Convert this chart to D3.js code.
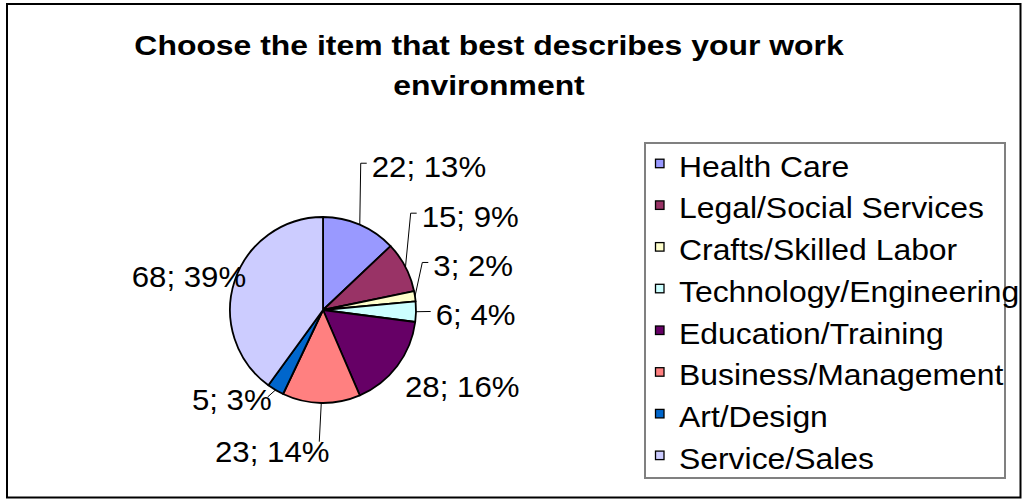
<!DOCTYPE html>
<html>
<head>
<meta charset="utf-8">
<script src="https://cdn.jsdelivr.net/npm/d3@7"></script>
<style>
  html, body { margin: 0; padding: 0; background: #fff; }
  svg { display: block; }
  text { font-family: "Liberation Sans", Arial, sans-serif; fill: #000; }
</style>
</head>
<body>
<svg id="chart" width="1025" height="499"></svg>
<script>
// Survey answers: work environment of respondents
const categories = [
  "Health Care",
  "Legal/Social Services",
  "Crafts/Skilled Labor",
  "Technology/Engineering",
  "Education/Training",
  "Business/Management",
  "Art/Design",
  "Service/Sales"
];
const counts = [22, 15, 3, 6, 28, 23, 5, 68];
const percentLabels = ["13%", "9%", "2%", "4%", "16%", "14%", "3%", "39%"];
const sliceColors = ["#9999FF", "#993366", "#FFFFCC", "#CCFFFF", "#660066", "#FF8080", "#0066CC", "#CCCCFF"];
const titleLines = ["Choose the item that best describes your work", "environment"];

// Label placement around the pie, in units of the pie radius from its centre.
// leader: "side" = bent line ending left of the text, "top" = line to the text's top,
// "corner" = short line to the text's upper-right corner, null = no line.
const labelLayout = [
  { dx: 0.524, dy: -1.433, anchor: "start", leader: "side" },
  { dx: 1.061, dy: -0.896, anchor: "start", leader: "side" },
  { dx: 1.186, dy: -0.366, anchor: "start", leader: "side" },
  { dx: 1.212, dy: 0.161, anchor: "start", leader: "side" },
  { dx: 0.882, dy: 0.932, anchor: "start", leader: null },
  { dx: -1.161, dy: 1.631, anchor: "start", leader: "top" },
  { dx: -0.552, dy: 1.075, anchor: "end", leader: "corner" },
  { dx: -2.057, dy: -0.251, anchor: "start", leader: null }
];

const svg = d3.select("#chart");
const W = 1025, H = 499;

// chart area frame
svg.append("rect").attr("x", 0).attr("y", 0).attr("width", W).attr("height", H).attr("fill", "#fff");
svg.append("rect")
  .attr("x", 7).attr("y", 4).attr("width", 1013.5).attr("height", 493.5)
  .attr("fill", "none").attr("stroke", "#000").attr("stroke-width", 2);

// helper: text with a slight horizontal stretch
function stretchedText(parent, x, y, str, opts) {
  const g = parent.append("g").attr("transform", `translate(${x},${y}) scale(${opts.sx},1)`);
  const t = g.append("text")
    .attr("x", 0).attr("y", 0)
    .attr("text-anchor", opts.anchor || "start")
    .style("font-size", opts.size + "px")
    .style("font-weight", opts.weight || "normal")
    .text(str);
  return { g, t, width: t.node().getComputedTextLength() * opts.sx };
}

// title
const titleCx = 489;
titleLines.forEach((line, i) => {
  stretchedText(svg, titleCx, 55 + i * 40, line, { size: 28.5, sx: 1.12, weight: "bold", anchor: "middle" });
});

// pie
const cx = 323, cy = 310, R = 93;
const pie = d3.pie().sort(null).value(d => d)(counts);
const arc = d3.arc().innerRadius(0).outerRadius(R);
const edge = d3.arc().innerRadius(R).outerRadius(R);

const pg = svg.append("g").attr("transform", `translate(${cx},${cy})`);
pg.selectAll("path.slice")
  .data(pie)
  .join("path")
  .attr("class", "slice")
  .attr("d", arc)
  .attr("fill", (d, i) => sliceColors[i])
  .attr("stroke", "#000")
  .attr("stroke-width", 1.8)
  .attr("stroke-linejoin", "round");

// data labels with leader lines
const lg = pg.append("g");
pie.forEach((d, i) => {
  const L = labelLayout[i];
  const x = L.dx * R, y = L.dy * R;
  stretchedText(lg, x, y, `${counts[i]}; ${percentLabels[i]}`, { size: 30, sx: 1.04, anchor: L.anchor });
  if (!L.leader) return;
  const [ex, ey] = edge.centroid(d);
  let pts;
  if (L.leader === "side") {
    const my = y - 13.5;
    pts = [[ex, ey], [x - 11, my], [x - 5, my]];
    if (Math.abs(ey - my) < 3) pts = [[ex, ey], [x - 5, my]];
  } else if (L.leader === "top") {
    pts = [[ex, ey], [ex - 2, y - 20]];
  } else {
    pts = [[ex, ey], [x - 4, y - 13]];
  }
  lg.append("path")
    .attr("d", d3.line()(pts))
    .attr("fill", "none")
    .attr("stroke", "#000")
    .attr("stroke-width", 1);
});

// legend
const legend = svg.append("g");
legend.append("rect")
  .attr("x", 645).attr("y", 143).attr("width", 360).attr("height", 335)
  .attr("fill", "#fff").attr("stroke", "#808080").attr("stroke-width", 2);

const rowY = d3.scalePoint().domain(d3.range(categories.length)).range([176.7, 468.6]);
categories.forEach((c, i) => {
  const by = rowY(i);
  legend.append("rect")
    .attr("x", 655.5).attr("y", by - 17.5).attr("width", 8.5).attr("height", 8.5)
    .attr("fill", sliceColors[i]).attr("stroke", "#000").attr("stroke-width", 1.3);
  stretchedText(legend, 679, by, c, { size: 29, sx: 1.1 });
});
</script>
</body>
</html>
